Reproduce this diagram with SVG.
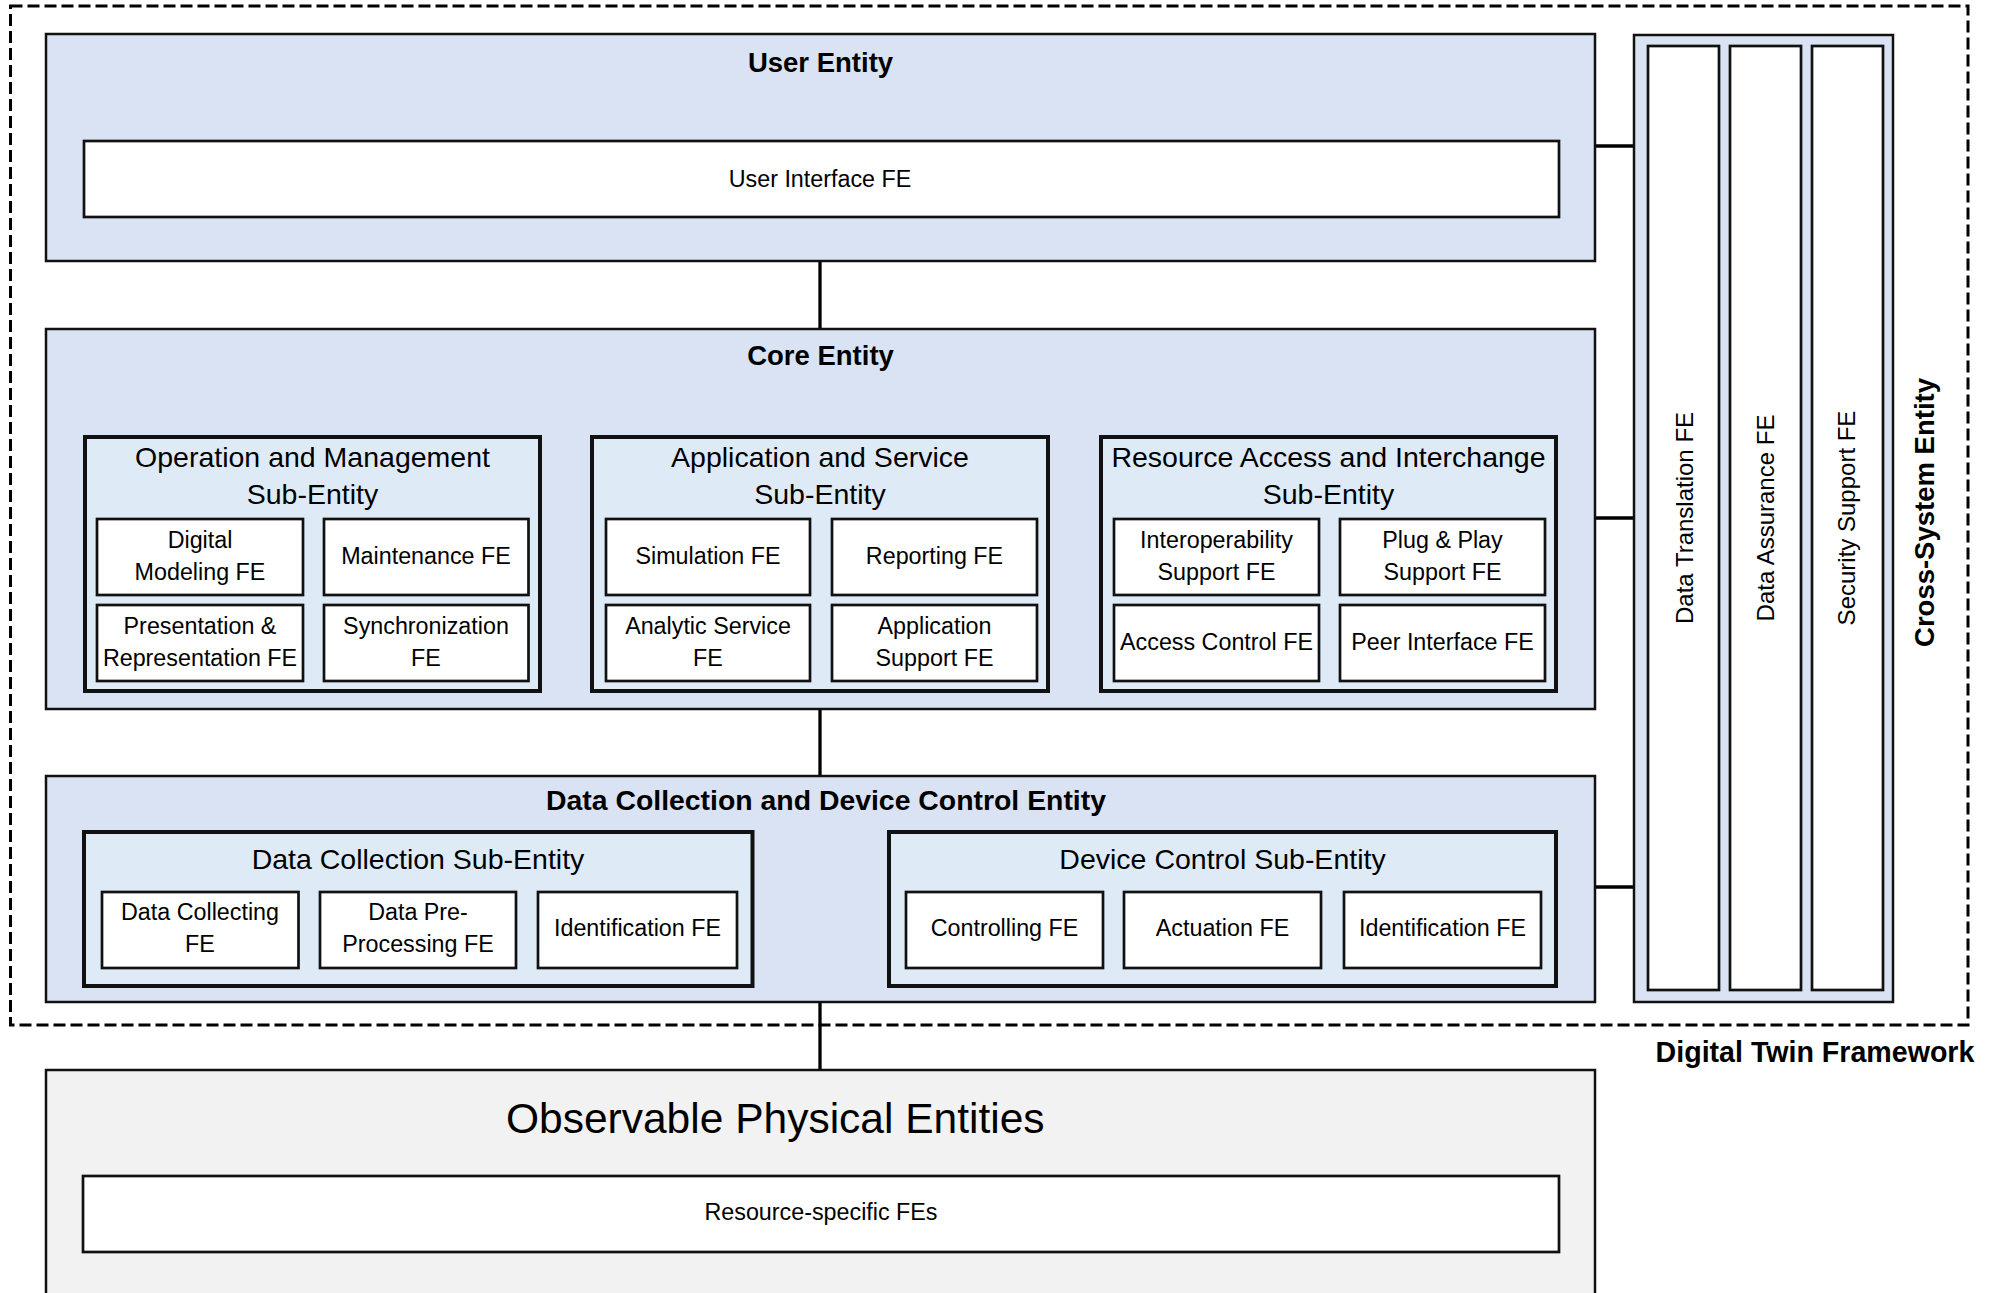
<svg xmlns="http://www.w3.org/2000/svg" width="1995" height="1293" viewBox="0 0 1995 1293">
  <style>
    text { font-family: "Liberation Sans", Arial, sans-serif; fill: #000; }
    .title { font-size: 27.5px; font-weight: bold; text-anchor: middle; }
    .sub { font-size: 28.5px; text-anchor: middle; }
    .fe { font-size: 23.3px; text-anchor: middle; }
    .vfe { font-size: 24px; text-anchor: middle; }
    .entity { fill: #DAE3F3; stroke: #111; stroke-width: 2.5; }
    .subent { fill: #DEEBF7; stroke: #111; stroke-width: 4; }
    .box { fill: #fff; stroke: #111; stroke-width: 2.7; }
    .conn { fill: none; stroke: #000; stroke-width: 3.3; }
  </style>

  <rect width="1995" height="1293" fill="#fff"/>

  <!-- Framework boundary -->
  <g id="framework">
    <rect x="10.5" y="6" width="1957.5" height="1019" fill="none" stroke="#000" stroke-width="3" stroke-dasharray="12 5"/>
    <text class="title" x="1815" y="1062" style="font-size:28.6px">Digital Twin Framework</text>
  </g>

  <!-- Connectors -->
  <g id="connectors">
    <line class="conn" x1="820" y1="261" x2="820" y2="329"/>
    <path class="conn" d="M312.5 437 V392 H1328.5 V437"/>
    <line class="conn" x1="540" y1="600" x2="592" y2="600"/>
    <line class="conn" x1="1048" y1="600" x2="1101" y2="600"/>
    <line class="conn" x1="820" y1="709" x2="820" y2="776"/>
    <line class="conn" x1="820" y1="1002" x2="820" y2="1070"/>
    <line class="conn" x1="1595" y1="146" x2="1634" y2="146"/>
    <line class="conn" x1="1595" y1="518" x2="1634" y2="518"/>
    <line class="conn" x1="1595" y1="887" x2="1634" y2="887"/>
  </g>

  <!-- User Entity -->
  <g id="user-entity">
    <rect class="entity" x="46" y="34" width="1549" height="227"/>
    <text class="title" x="820.5" y="72">User Entity</text>
    <rect class="box" x="84" y="141" width="1475" height="76"/>
    <text class="fe" x="820" y="187">User Interface FE</text>
  </g>

  <!-- Core Entity -->
  <g id="core-entity">
    <rect class="entity" x="46" y="329" width="1549" height="380"/>
    <text class="title" x="820.5" y="365">Core Entity</text>
  </g>

  <g id="operation-management">
    <rect class="subent" x="85" y="437" width="455" height="254"/>
    <text class="sub" x="312.5" y="467">Operation and Management</text>
    <text class="sub" x="312.5" y="504">Sub-Entity</text>
    <rect class="box" x="97" y="519" width="206" height="76"/>
    <text class="fe" x="200" y="548">Digital</text>
    <text class="fe" x="200" y="580">Modeling FE</text>
    <rect class="box" x="324" y="519" width="204.5" height="76"/>
    <text class="fe" x="426" y="564">Maintenance FE</text>
    <rect class="box" x="97" y="605" width="206" height="76"/>
    <text class="fe" x="200" y="634">Presentation &amp;</text>
    <text class="fe" x="200" y="666">Representation FE</text>
    <rect class="box" x="324" y="605" width="204.5" height="76"/>
    <text class="fe" x="426" y="634">Synchronization</text>
    <text class="fe" x="426" y="666">FE</text>
  </g>

  <g id="application-service">
    <rect class="subent" x="592" y="437" width="456" height="254"/>
    <text class="sub" x="820" y="467">Application and Service</text>
    <text class="sub" x="820" y="504">Sub-Entity</text>
    <rect class="box" x="606" y="519" width="204" height="76"/>
    <text class="fe" x="708" y="564">Simulation FE</text>
    <rect class="box" x="832" y="519" width="205" height="76"/>
    <text class="fe" x="934.5" y="564">Reporting FE</text>
    <rect class="box" x="606" y="605" width="204" height="76"/>
    <text class="fe" x="708" y="634">Analytic Service</text>
    <text class="fe" x="708" y="666">FE</text>
    <rect class="box" x="832" y="605" width="205" height="76"/>
    <text class="fe" x="934.5" y="634">Application</text>
    <text class="fe" x="934.5" y="666">Support FE</text>
  </g>

  <g id="resource-access">
    <rect class="subent" x="1101" y="437" width="455" height="254"/>
    <text class="sub" x="1328.5" y="467">Resource Access and Interchange</text>
    <text class="sub" x="1328.5" y="504">Sub-Entity</text>
    <rect class="box" x="1114" y="519" width="205" height="76"/>
    <text class="fe" x="1216.5" y="548">Interoperability</text>
    <text class="fe" x="1216.5" y="580">Support FE</text>
    <rect class="box" x="1340" y="519" width="205" height="76"/>
    <text class="fe" x="1442.5" y="548">Plug &amp; Play</text>
    <text class="fe" x="1442.5" y="580">Support FE</text>
    <rect class="box" x="1114" y="605" width="205" height="76"/>
    <text class="fe" x="1216.5" y="650">Access Control FE</text>
    <rect class="box" x="1340" y="605" width="205" height="76"/>
    <text class="fe" x="1442.5" y="650">Peer Interface FE</text>
  </g>

  <!-- Data Collection and Device Control Entity -->
  <g id="data-collection-device-control">
    <rect class="entity" x="46" y="776" width="1549" height="226"/>
    <text class="title" x="826" y="810" style="font-size:28.4px">Data Collection and Device Control Entity</text>
  </g>

  <g id="data-collection">
    <rect class="subent" x="84" y="832" width="668.5" height="154"/>
    <text class="sub" x="418" y="869">Data Collection Sub-Entity</text>
    <rect class="box" x="102" y="892" width="196.5" height="76"/>
    <text class="fe" x="200" y="920">Data Collecting</text>
    <text class="fe" x="200" y="952">FE</text>
    <rect class="box" x="320" y="892" width="196" height="76"/>
    <text class="fe" x="418" y="920">Data Pre-</text>
    <text class="fe" x="418" y="952">Processing FE</text>
    <rect class="box" x="538" y="892" width="199" height="76"/>
    <text class="fe" x="637.5" y="936">Identification FE</text>
  </g>

  <g id="device-control">
    <rect class="subent" x="889" y="832" width="667" height="154"/>
    <text class="sub" x="1222.5" y="869">Device Control Sub-Entity</text>
    <rect class="box" x="906" y="892" width="197" height="76"/>
    <text class="fe" x="1004.5" y="936">Controlling FE</text>
    <rect class="box" x="1124" y="892" width="197" height="76"/>
    <text class="fe" x="1222.5" y="936">Actuation FE</text>
    <rect class="box" x="1344" y="892" width="197" height="76"/>
    <text class="fe" x="1442.5" y="936">Identification FE</text>
  </g>

  <!-- Cross-System Entity -->
  <g id="cross-system">
    <rect class="entity" x="1634" y="35" width="259" height="967"/>
    <rect class="box" x="1648" y="46" width="71" height="944"/>
    <rect class="box" x="1730" y="46" width="71" height="944"/>
    <rect class="box" x="1812" y="46" width="71" height="944"/>
    <text class="vfe" transform="translate(1692.5 518) rotate(-90)">Data Translation FE</text>
    <text class="vfe" transform="translate(1774 518) rotate(-90)">Data Assurance FE</text>
    <text class="vfe" transform="translate(1855 518) rotate(-90)">Security Support FE</text>
    <text class="title" transform="translate(1934 512.5) rotate(-90)">Cross-System Entity</text>
  </g>

  <!-- Observable Physical Entities -->
  <g id="observable-physical">
    <rect x="46" y="1070" width="1549" height="240" fill="#F2F2F2" stroke="#111" stroke-width="2.5"/>
    <text x="506" y="1133" font-size="42.5">Observable Physical Entities</text>
    <rect class="box" x="83" y="1176" width="1476" height="76"/>
    <text class="fe" x="821" y="1220">Resource-specific FEs</text>
  </g>
</svg>
